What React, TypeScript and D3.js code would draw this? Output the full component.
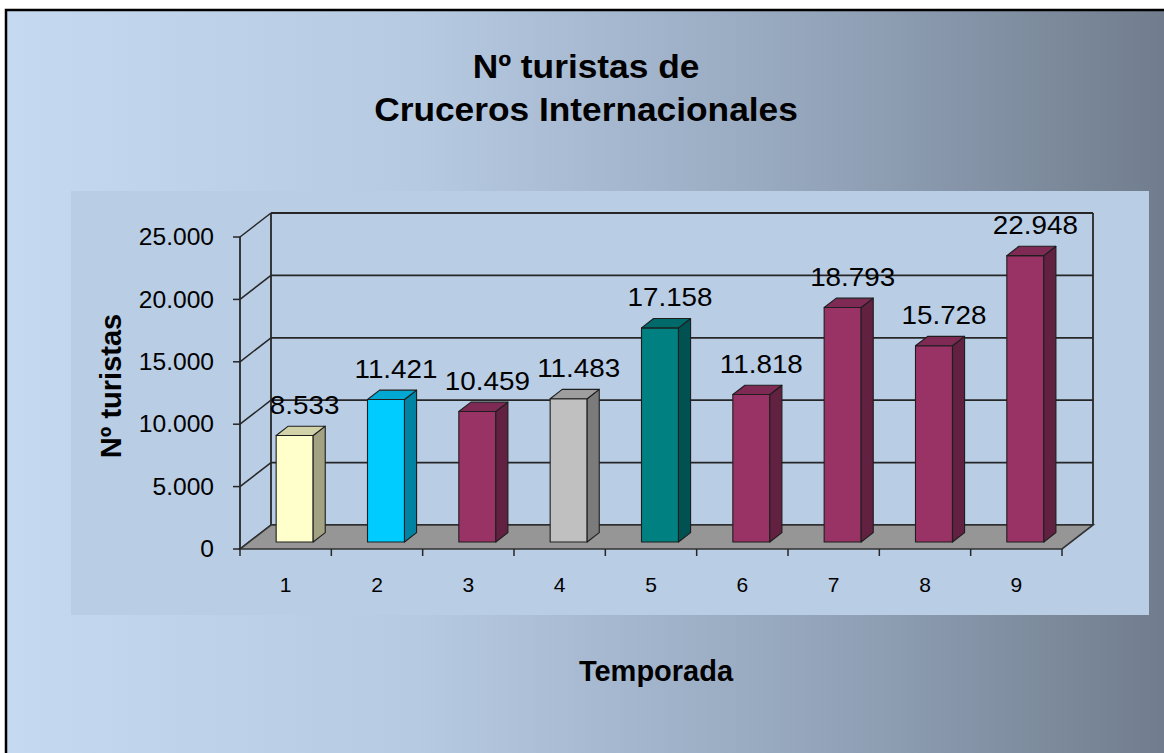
import React from 'react';
import * as d3 from 'd3';

const width = 1164;
const height = 753;

// data ------------------------------------------------------------
const seasons = ['1', '2', '3', '4', '5', '6', '7', '8', '9'];
const tourists = [8533, 11421, 10459, 11483, 17158, 11818, 18793, 15728, 22948];
const barColors = ['#FFFFCC', '#00CCFF', '#993366', '#C0C0C0', '#008080', '#993366', '#993366', '#993366', '#993366'];
const yTickValues = [0, 5000, 10000, 15000, 20000, 25000];

const titleLines = ['Nº turistas de', 'Cruceros Internacionales'];
const yTitle = 'Nº turistas';
const xTitle = 'Temporada';

// layout ----------------------------------------------------------
const plot = { left: 240, right: 1062, top: 237, bottom: 549 };
const depth = { dx: 31, dy: -24 };       // front axis -> back wall
const barDepth = { start: 0.29, end: 0.68 }; // bars sit mid-floor

const font = "Arial, 'Liberation Sans', sans-serif";

const es = d3.formatLocale({ decimal: ',', thousands: '.', grouping: [3], currency: ['', ''] });
const fmt = es.format(',');

const App = () => {
  const x = d3.scaleBand().domain(seasons).range([plot.left, plot.right]).padding(0);
  const y = d3.scaleLinear().domain([0, 25000]).range([plot.bottom, plot.top]);
  const color = d3.scaleOrdinal<string, string>().domain(seasons).range(barColors);

  const barW = x.bandwidth() * 0.405;
  const off = { dx: depth.dx * barDepth.start, dy: depth.dy * barDepth.start };
  const bd = { dx: depth.dx * (barDepth.end - barDepth.start), dy: depth.dy * (barDepth.end - barDepth.start) };

  const backL = plot.left + depth.dx;
  const backR = plot.right + depth.dx;
  const backTop = plot.top + depth.dy;
  const backBottom = plot.bottom + depth.dy;

  const floor = [
    [plot.left, plot.bottom],
    [plot.right, plot.bottom],
    [backR, backBottom],
    [backL, backBottom],
  ];
  const line = d3.line();

  const bars = seasons.map((s, i) => {
    const x0 = (x(s) as number) + x.bandwidth() / 2 - barW / 2 + off.dx;
    const x1 = x0 + barW;
    const yb = y(0) + off.dy;
    const yt = y(tourists[i]) + off.dy;
    const c = d3.color(color(s)) as d3.RGBColor;
    return {
      key: s,
      front: c.formatHex(),
      side: c.darker(1.25).formatHex(),
      top: c.darker(0.55).formatHex(),
      x0, x1, yb, yt,
      sidePts: [[x1, yb], [x1 + bd.dx, yb + bd.dy], [x1 + bd.dx, yt + bd.dy], [x1, yt]],
      topPts: [[x0, yt], [x1, yt], [x1 + bd.dx, yt + bd.dy], [x0 + bd.dx, yt + bd.dy]],
      label: fmt(tourists[i]),
    };
  });

  const gridStroke = '#262626';
  // the original text is a little wider than it is tall
  const stretch = 1.07;

  return (
    <svg width={width} height={height} style={{ position: 'absolute', left: 0, top: 0, background: '#fff' }}>
      <defs>
        <linearGradient id="bg" x1="0" x2="1" y1="0" y2="0">
          <stop offset="0" stopColor="#C5D9F1" />
          <stop offset="0.35" stopColor="#B6CAE2" />
          <stop offset="0.7" stopColor="#93A4BA" />
          <stop offset="1" stopColor="#6F7B8B" />
        </linearGradient>
      </defs>

      {/* chart area */}
      <rect x={6} y={10} width={width + 10} height={height + 10} fill="url(#bg)" stroke="#000" strokeWidth={2.5} />
      <rect x={71} y={191} width={1078} height={424} fill="#B9CDE5" />

      {/* title */}
      {titleLines.map((t, i) => (
        <text key={t} transform={`translate(586,${78 + i * 43}) scale(${stretch},1)`} textAnchor="middle"
          fontFamily={font} fontWeight="bold" fontSize={33}>
          {t}
        </text>
      ))}

      {/* back wall + gridlines */}
      {yTickValues.map(v => (
        <g key={v}>
          <line x1={backL} x2={backR} y1={y(v) + depth.dy} y2={y(v) + depth.dy} stroke={gridStroke} strokeWidth={1.8} />
          <line x1={plot.left} x2={backL} y1={y(v)} y2={y(v) + depth.dy} stroke={gridStroke} strokeWidth={1.5} />
        </g>
      ))}
      <line x1={backL} x2={backL} y1={backTop} y2={backBottom} stroke={gridStroke} strokeWidth={1.8} />
      <line x1={backR} x2={backR} y1={backTop} y2={backBottom} stroke={gridStroke} strokeWidth={1.8} />

      {/* floor */}
      <path d={line(floor as [number, number][]) + 'Z'} fill="#969696" stroke="#333" strokeWidth={1.6} />

      {/* bars */}
      {bars.map(b => (
        <g key={b.key} stroke="#1e1e1e" strokeWidth={1.1} strokeLinejoin="round">
          <rect x={b.x0} y={b.yt} width={b.x1 - b.x0} height={b.yb - b.yt} fill={b.front} />
          <path d={line(b.sidePts as [number, number][]) + 'Z'} fill={b.side} />
          <path d={line(b.topPts as [number, number][]) + 'Z'} fill={b.top} />
        </g>
      ))}

      {/* axes */}
      <line x1={plot.left} x2={plot.left} y1={plot.top} y2={plot.bottom} stroke={gridStroke} strokeWidth={1.8} />
      {yTickValues.map(v => (
        <g key={v}>
          <line x1={plot.left - 7} x2={plot.left} y1={y(v)} y2={y(v)} stroke={gridStroke} strokeWidth={1.5} />
          <text transform={`translate(214,${y(v)}) scale(${stretch},1)`} dy="0.36em" textAnchor="end"
            fontFamily={font} fontSize={23}>
            {fmt(v)}
          </text>
        </g>
      ))}
      {[...seasons.map(s => x(s) as number), plot.right].map(t => (
        <line key={t} x1={t} x2={t} y1={plot.bottom} y2={plot.bottom + 7} stroke={gridStroke} strokeWidth={1.5} />
      ))}
      {seasons.map(s => (
        <text key={s} x={(x(s) as number) + x.bandwidth() / 2} y={592} textAnchor="middle" fontFamily={font} fontSize={21}>
          {s}
        </text>
      ))}

      {/* value labels */}
      {bars.map(b => (
        <text key={b.key} transform={`translate(${(b.x0 + b.x1) / 2 + 10},${b.yt - 22}) scale(${stretch},1)`}
          textAnchor="middle" fontFamily={font} fontSize={26}>
          {b.label}
        </text>
      ))}

      {/* axis titles */}
      <text transform="translate(121,386) rotate(-90)" textAnchor="middle" fontFamily={font} fontWeight="bold" fontSize={29}>
        {yTitle}
      </text>
      <text x={656} y={681} textAnchor="middle" fontFamily={font} fontWeight="bold" fontSize={29}>
        {xTitle}
      </text>
    </svg>
  );
};

export default App;
